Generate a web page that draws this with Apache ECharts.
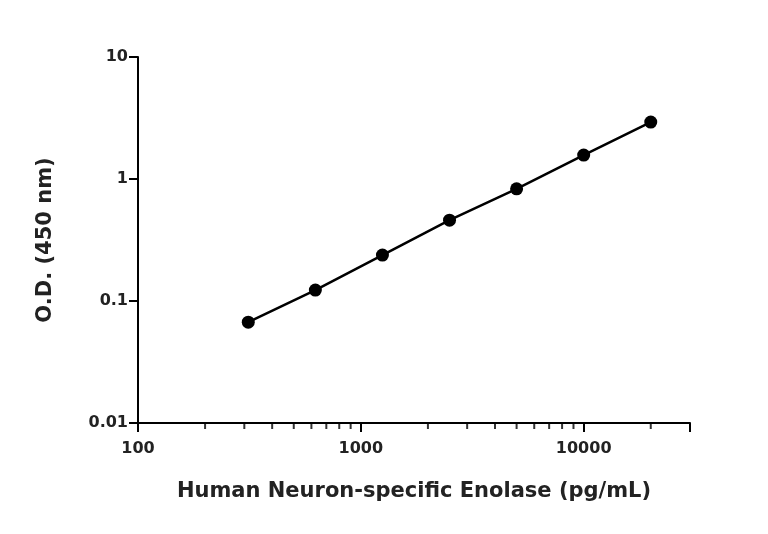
<!DOCTYPE html>
<html>
<head>
<meta charset="utf-8">
<script src="https://cdn.jsdelivr.net/npm/echarts@6/dist/echarts.min.js"></script>
<style>
  html, body { margin: 0; padding: 0; background: #fff; }
  #chart { width: 768px; height: 534px; }
</style>
</head>
<body>
<div id="chart"></div>
<script>
// Standard curve data
const concentrations = [312.5, 625, 1250, 2500, 5000, 10000, 20000];
const odValues = [0.067, 0.123, 0.238, 0.46, 0.83, 1.57, 2.93];
const xMinorTicks = [200, 300, 400, 500, 600, 700, 800, 900, 2000, 3000, 4000, 5000, 6000, 7000, 8000, 9000, 20000, 30000];

const chart = echarts.init(document.getElementById('chart'));
const font = '"DejaVu Sans", sans-serif';

const option = {
    animation: false,
    grid: { left: 138, right: 78, top: 57, bottom: 111 },
    xAxis: {
        type: 'log', min: 100, max: 30000, logBase: 10,
        name: 'Human Neuron-specific Enolase (pg/mL)',
        nameLocation: 'middle', nameGap: 58,
        nameTextStyle: { fontFamily: font, fontWeight: 'bold', fontSize: 21, color: '#222' },
        axisLine: { lineStyle: { color: '#000', width: 2 } },
        axisTick: { length: 9, lineStyle: { color: '#000', width: 2 } },
        axisLabel: { fontFamily: font, fontWeight: 'bold', fontSize: 16, color: '#222', margin: 18,
            formatter: v => (v >= 29999 ? '' : String(Math.round(v))) },
        splitLine: { show: false }
    },
    yAxis: {
        type: 'log', min: 0.01, max: 10, logBase: 10,
        name: 'O.D. (450 nm)',
        nameLocation: 'middle', nameGap: 82,
        nameTextStyle: { fontFamily: font, fontWeight: 'bold', fontSize: 21, color: '#222' },
        axisLine: { show: true, lineStyle: { color: '#000', width: 2 } },
        axisTick: { show: true, length: 9, lineStyle: { color: '#000', width: 2 } },
        axisLabel: { fontFamily: font, fontWeight: 'bold', fontSize: 16, color: '#222', margin: 10,
            formatter: v => String(+v.toPrecision(2)) },
        splitLine: { show: false }
    },
    series: [
        {
            type: 'line',
            data: concentrations.map((c, i) => [c, odValues[i]]),
            symbol: 'circle', symbolSize: 13,
            itemStyle: { color: '#000' },
            lineStyle: { color: '#000', width: 2.5 }
        },
        {
            // minor ticks on the log x axis
            type: 'scatter',
            data: xMinorTicks.map(v => [v, 0.01]),
            symbol: 'rect', symbolSize: [2, 5], symbolOffset: [0, 3.5],
            itemStyle: { color: '#000' },
            silent: true
        }
    ]
};

chart.setOption(option);
</script>
</body>
</html>
